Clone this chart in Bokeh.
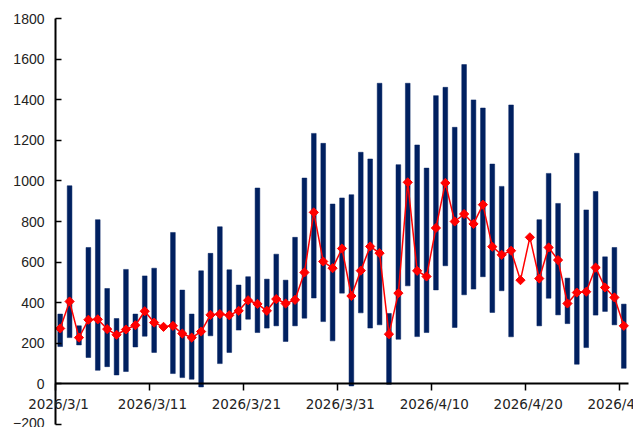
import math
import pandas as pd
from bokeh.plotting import figure
from bokeh.models import ColumnDataSource, FixedTicker, Range1d, Label
from bokeh.embed import file_html
from bokeh.resources import INLINE

NAN = float("nan")

start_date = "2026-03-01"
end_date = "2026-04-30"

# daily range (low/high) bars; NaN where no bar was drawn
bar_high = [344, 976, 286, 672, 809, 470, 322, 564, 344, 532,
            570, NAN, 746, 462, 344, 557, 643, 774, 562, 487,
            528, 965, 516, 639, 511, 722, 1014, 1234, 1185, 886,
            916, 932, 1141, 1108, 1481, 347, 1080, 1481, 1177, 1063,
            1420, 1461, 1264, 1573, 1399, 1359, 1083, 973, 1374, NAN,
            NAN, 809, 1037, 889, 521, 1136, 857, 948, 626, 672,
            393]
bar_low = [184, 228, 192, 130, 67, 85, 44, 61, 182, 235,
           155, NAN, 51, 31, 23, -15, 237, 100, 155, 265,
           319, 253, 275, 286, 209, 286, 324, 423, 307, 212,
           447, -10, 350, 275, 291, -2, 220, 483, 233, 253,
           463, 582, 278, 439, 467, 528, 352, 459, 232, NAN,
           NAN, 286, 422, 340, 297, 97, 179, 339, 357, 291,
           77]
# line series (red diamonds)
line_vals = [273, 406, 228, 316, 318, 270, 242, 268, 289, 358,
             302, 281, 286, 248, 228, 258, 340, 344, 338, 360,
             412, 394, 360, 418, 396, 414, 549, 845, 603, 570,
             667, 433, 558, 677, 644, 245, 447, 993, 557, 529,
             768, 990, 800, 837, 788, 883, 676, 636, 656, 511,
             722, 519, 672, 610, 396, 450, 454, 573, 475, 426,
             286]

tick_labels = ["2026/3/1", "2026/3/11", "2026/3/21", "2026/3/31",
               "2026/4/10", "2026/4/20", "2026/4/30"]
y_ticks = [-200, 0, 200, 400, 600, 800, 1000, 1200, 1400, 1600, 1800]
y_min, y_max = -200, 1800

t0 = pd.Timestamp(start_date)
dates = pd.date_range(start_date, end_date)
xs = [(d - t0).days + 0.5 for d in dates]
tick_pos = [(pd.Timestamp(s.replace("/", "-")) - t0).days for s in tick_labels]
n_days = len(dates)

# layout: the plotting frame covers (almost) the whole canvas, the axes are
# placed at fixed data locations (x = 0 and y = 0) so that tick labels are
# not cut by the frame edges.
W, H = 633, 427
axis_left_px, axis_right_px = 55, 628      # screen x of day 0 and day n_days
axis_top_px, axis_bottom_px = 18, 424      # screen y of y_max and y_min
frame_left, frame_top = 5, 5
ppd = (axis_right_px - axis_left_px) / n_days
ppu = (axis_bottom_px - axis_top_px) / (y_max - y_min)
x_start = -(axis_left_px - frame_left) / ppd
x_end = n_days + (W - axis_right_px) / ppd
y_end = y_max + (axis_top_px - frame_top) / ppu
y_start = y_min - (H - axis_bottom_px) / ppu

src = ColumnDataSource(dict(x=xs, high=bar_high, low=bar_low, val=line_vals))

p = figure(width=W, height=H, output_backend="svg", toolbar_location=None,
           x_range=Range1d(x_start, x_end), y_range=Range1d(y_start, y_end),
           min_border_left=frame_left, min_border_right=0,
           min_border_top=frame_top, min_border_bottom=0)
p.outline_line_color = None
p.xgrid.visible = False
p.ygrid.visible = False
p.background_fill_color = "white"
p.border_fill_color = "white"

p.vbar(x="x", width=0.5, top="high", bottom="low", source=src,
       fill_color="#002060", line_color="#002060", line_width=0.5)
p.line(x="x", y="val", source=src, line_color="#FF0000", line_width=1.5)
p.scatter(x="x", y="val", source=src, marker="square", angle=math.pi / 4,
          size=6.5, fill_color="#FF0000", line_color="#FF0000")

# x axis crossing at y = 0 (rule and ticks); labels placed below it
xa = p.xaxis[0]
xa.fixed_location = 0
xa.bounds = (0, n_days)
xa.ticker = FixedTicker(ticks=tick_pos)
xa.major_label_overrides = {tp: "" for tp in tick_pos}
xa.minor_tick_line_color = None
xa.major_tick_in = 0
xa.major_tick_out = 7
xa.axis_line_width = 2
xa.major_tick_line_width = 1.5
xa.axis_line_color = "black"

for tp, lab in zip(tick_pos, tick_labels):
    p.add_layout(Label(x=tp, y=0, x_units="data", y_units="data", text=lab,
                       x_offset=3, y_offset=-12, text_align="center",
                       text_baseline="top", text_font="DejaVu Sans",
                       text_font_size="13.5px", text_color="#222222"))

ya = p.yaxis[0]
ya.fixed_location = 0
ya.bounds = (y_min, y_max)
ya.ticker = FixedTicker(ticks=y_ticks)
ya.minor_tick_line_color = None
ya.major_tick_in = 6
ya.major_tick_out = 0
ya.axis_line_width = 2
ya.major_tick_line_width = 1.5
ya.axis_line_color = "black"
ya.major_label_text_font = "Liberation Sans"
ya.major_label_text_font_size = "14px"
ya.major_label_text_color = "#222222"
ya.major_label_standoff = 11

open("out.html", "w").write(file_html(p, INLINE))
